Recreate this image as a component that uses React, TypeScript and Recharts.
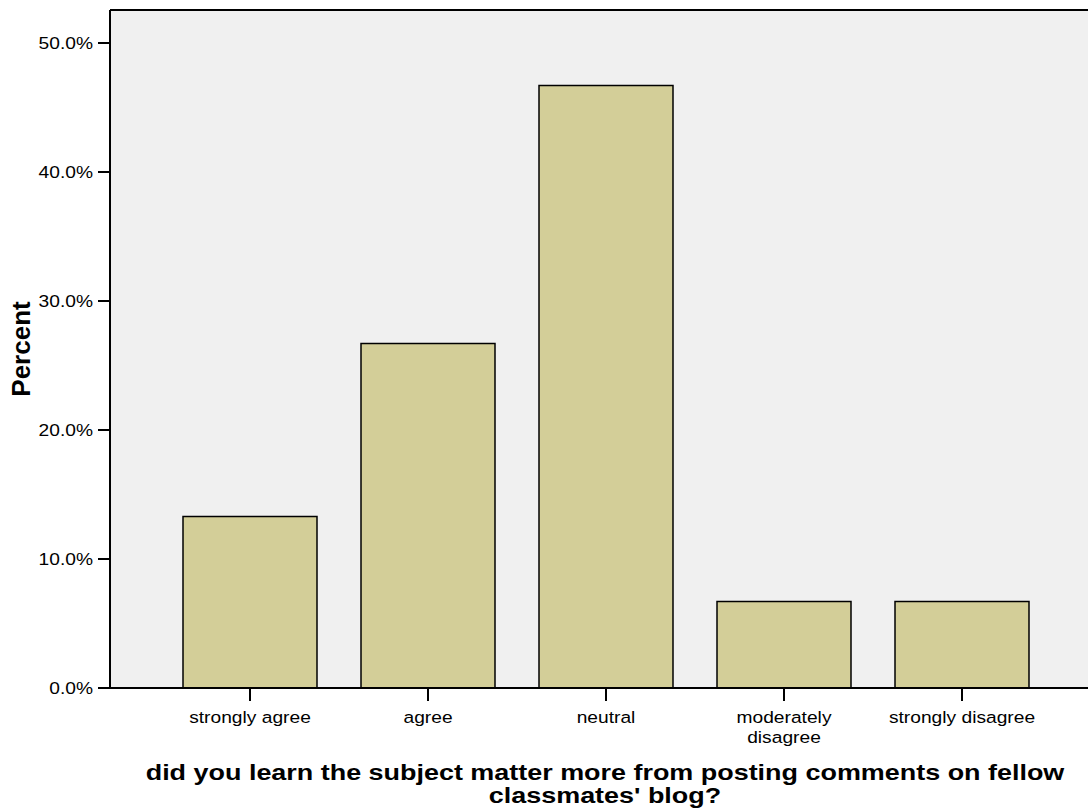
import { Bar, BarChart, CartesianGrid, ReferenceLine, XAxis, YAxis } from "recharts";

const categories = ["strongly agree", "agree", "neutral", "moderately disagree", "strongly disagree"];
const percents = [13.3, 26.7, 46.7, 6.7, 6.7];
const yTicks = [0, 10, 20, 30, 40, 50];
const yMax = 52.56;
const xTitle = ["did you learn the subject matter more from posting comments on fellow", "classmates' blog?"];
const yTitle = "Percent";

const FONT = "'Liberation Sans', Arial, sans-serif";
// the source image is stretched sideways a little, so text is widened to match
const STRETCH = 1.13;

const data = categories.map((name, i) => ({ name, percent: percents[i] }));

// SPSS wraps long category labels onto two lines
function CategoryTick({ x, y, payload }: any) {
  const label: string = payload.value;
  const cut = label.indexOf(" ");
  const lines = label.length > 17 ? [label.slice(0, cut), label.slice(cut + 1)] : [label];
  return (
    <g transform={`translate(${x},${y}) scale(${STRETCH},1)`}>
      <text x={0} y={0} textAnchor="middle" fontFamily={FONT} fontSize={17} fill="#000">
        {lines.map((line, i) => (
          <tspan key={i} x={0} dy={i === 0 ? "0.8em" : 20}>
            {line}
          </tspan>
        ))}
      </text>
    </g>
  );
}

function PercentTick({ x, y, payload }: any) {
  return (
    <g transform={`translate(${x},${y}) scale(${STRETCH},1)`}>
      <text x={0} y={0} dy="0.36em" textAnchor="end" fontFamily={FONT} fontSize={17} fill="#000">
        {`${Number(payload.value).toFixed(1)}%`}
      </text>
    </g>
  );
}

function XTitle({ viewBox }: any) {
  const cx = viewBox.x + viewBox.width / 2 - 5;
  return (
    <g transform={`translate(${cx},780) scale(1.225,1)`}>
      <text x={0} y={0} textAnchor="middle" fontFamily={FONT} fontSize={22} fontWeight="bold" fill="#000">
        {xTitle.map((line, i) => (
          <tspan key={i} x={0} dy={i === 0 ? 0 : 23}>
            {line}
          </tspan>
        ))}
      </text>
    </g>
  );
}

function YTitle({ viewBox }: any) {
  const cy = viewBox.y + viewBox.height / 2;
  return (
    <text x={30} y={cy} transform={`rotate(-90, 30, ${cy})`} textAnchor="middle" fontFamily={FONT} fontSize={26} fontWeight="bold" fill="#000">
      {yTitle}
    </text>
  );
}

export default function App() {
  return (
    <div style={{ position: "absolute", left: 0, top: 0, width: 1088, height: 811, overflow: "hidden", background: "#fff" }}>
      <BarChart width={1110} height={811} data={data} margin={{ top: 10, right: 0, left: 0, bottom: 0 }}>
        <CartesianGrid fill="#f0f0f0" horizontal={false} vertical={false} />
        <XAxis
          dataKey="name"
          height={123}
          padding={{ left: 51, right: 59 }}
          stroke="#000"
          strokeWidth={2}
          tickSize={13}
          tickMargin={8}
          tick={<CategoryTick />}
          tickLine={{ stroke: "#000", strokeWidth: 2 }}
          interval={0}
          label={<XTitle />}
        />
        <YAxis
          width={110}
          domain={[0, yMax]}
          ticks={yTicks}
          stroke="#000"
          strokeWidth={2}
          tickSize={12}
          tickMargin={5}
          tick={<PercentTick />}
          tickLine={{ stroke: "#000", strokeWidth: 2 }}
          label={<YTitle />}
        />
        <ReferenceLine y={yMax} stroke="#000" strokeWidth={2} />
        <Bar dataKey="percent" barSize={134} fill="#d3ce98" stroke="#000" strokeWidth={1.5} isAnimationActive={false} />
      </BarChart>
    </div>
  );
}
